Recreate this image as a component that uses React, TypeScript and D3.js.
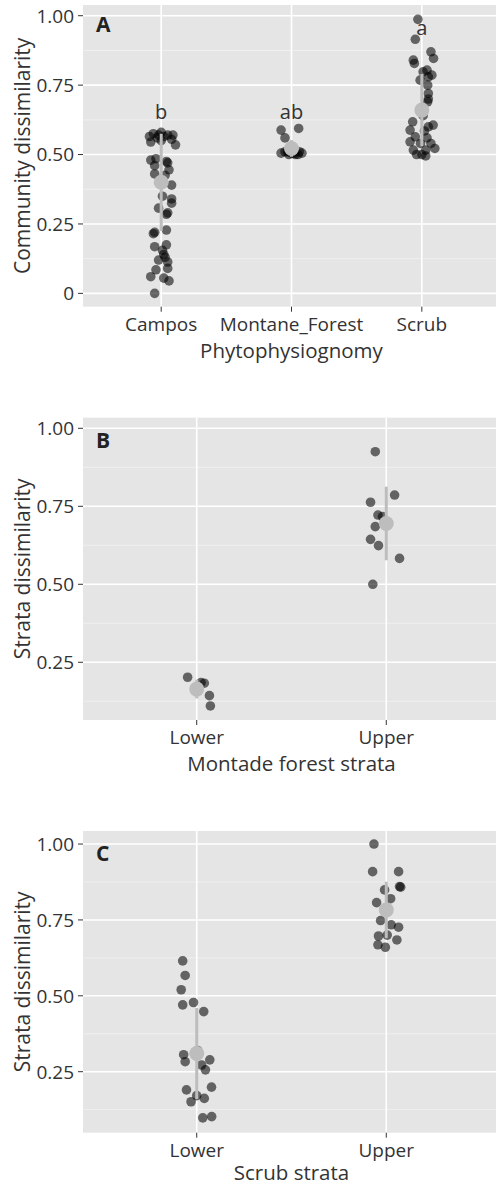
import React from "react";
import * as d3 from "d3";

// ---------- DATA ----------
// Panel A
const catsA = ["Campos", "Montane_Forest", "Scrub"];
const camposVals = [0.58, 0.575, 0.57, 0.565, 0.57, 0.56, 0.555, 0.545, 0.535, 0.57, 0.565, 0.55, 0.48, 0.485, 0.475, 0.47, 0.46, 0.445, 0.43, 0.425, 0.39, 0.35, 0.34, 0.325, 0.307, 0.29, 0.285, 0.228, 0.22, 0.215, 0.175, 0.168, 0.155, 0.14, 0.13, 0.12, 0.113, 0.09, 0.085, 0.06, 0.055, 0.045, 0.0];
const camposJit = [0.0, -0.06, 0.05, -0.09, 0.09, -0.03, 0.08, -0.08, 0.11, -0.02, 0.02, 0.0, -0.08, -0.04, 0.04, 0.05, -0.05, 0.06, -0.05, 0.03, 0.08, 0.01, 0.08, 0.08, -0.02, 0.05, 0.04, 0.04, -0.05, -0.06, 0.04, -0.05, 0.01, 0.02, 0.03, -0.02, 0.05, 0.05, -0.04, -0.08, 0.02, 0.06, -0.05];
const montaneVals = [0.594, 0.588, 0.56, 0.505, 0.51, 0.5, 0.505, 0.5, 0.51, 0.505, 0.5, 0.51, 0.505];
const montaneJit = [0.055, -0.08, -0.05, -0.08, -0.05, -0.02, 0.0, 0.03, 0.06, 0.08, 0.05, -0.03, 0.02];
const scrubVals = [0.987, 0.915, 0.87, 0.846, 0.84, 0.828, 0.804, 0.78, 0.798, 0.786, 0.768, 0.75, 0.72, 0.7, 0.69, 0.64, 0.618, 0.606, 0.6, 0.588, 0.585, 0.564, 0.56, 0.546, 0.54, 0.54, 0.516, 0.516, 0.522, 0.5, 0.495, 0.5];
const scrubJit = [-0.03, -0.05, 0.07, 0.09, -0.065, -0.057, 0.04, 0.05, 0.01, 0.077, -0.013, 0.045, 0.05, 0.05, 0.045, 0.01, -0.07, 0.087, 0.05, -0.09, 0.02, -0.05, 0.04, -0.09, -0.01, 0.07, -0.065, 0.03, 0.1, -0.04, 0.03, 0.0];
const meansA = [0.40, 0.522, 0.66];
const sdsA = [0.175, 0.03, 0.13];
const lettersA = ["b", "ab", "a"];
const letterPosA = [0.628, 0.628, 0.93];
const yTicksA = [0, 0.25, 0.5, 0.75, 1.0];
const yTickLabelsA = ["0", "0.25", "0.50", "0.75", "1.00"];

// Panel B
const catsB = ["Lower", "Upper"];
const bLowerVals = [0.202, 0.185, 0.183, 0.143, 0.11];
const bLowerJit = [-0.048, 0.023, 0.04, 0.067, 0.072];
const bUpperVals = [0.925, 0.786, 0.763, 0.722, 0.717, 0.685, 0.644, 0.624, 0.583, 0.5];
const bUpperJit = [-0.058, 0.044, -0.083, -0.044, -0.02, -0.058, -0.083, -0.041, 0.07, -0.071];
const meansB = [0.164, 0.695];
const sdsB = [0.03, 0.118];

// Panel C
const catsC = ["Lower", "Upper"];
const cLowerVals = [0.615, 0.567, 0.52, 0.47, 0.478, 0.448, 0.306, 0.32, 0.283, 0.272, 0.289, 0.256, 0.19, 0.199, 0.171, 0.151, 0.162, 0.098, 0.102];
const cLowerJit = [-0.074, -0.061, -0.082, -0.074, -0.017, 0.037, -0.069, 0.005, -0.061, 0.026, 0.069, 0.046, -0.054, 0.078, 0.0, -0.03, 0.04, 0.032, 0.079];
const cUpperVals = [1.0, 0.909, 0.909, 0.858, 0.86, 0.849, 0.82, 0.807, 0.748, 0.734, 0.726, 0.697, 0.7, 0.684, 0.668, 0.66];
const cUpperJit = [-0.065, -0.072, 0.065, 0.076, 0.07, -0.009, 0.023, -0.051, -0.03, 0.026, 0.065, -0.041, 0.005, 0.056, -0.044, -0.005];
const meansC = [0.31, 0.783];
const sdsC = [0.15, 0.093];

const yTicksBC = [0.25, 0.5, 0.75, 1.0];
const yTickLabelsBC = ["0.25", "0.50", "0.75", "1.00"];

// ---------- STYLE ----------
const FONT = "'Open Sans', 'Noto Sans', sans-serif";
const BG = "#e5e5e5";
const TEXT = "#333333";
const W = 496;
const H = 1186;
const PLOT_LEFT = 83;
const PLOT_RIGHT = 500;

type Group = { cat: string; vals: number[]; jit: number[] };

type PanelProps = {
  top: number;
  bottom: number;
  domain: [number, number];
  cats: string[];
  groups: Group[];
  means: number[];
  sds: number[];
  yTicks: number[];
  yTickLabels: string[];
  minor: number[];
  letter: string;
  yTitle: string;
  xTitle: string;
  titleOffset: number;
  sigLetters?: string[];
  sigPos?: number[];
};

function Panel(p: PanelProps) {
  const y = d3.scaleLinear().domain(p.domain).range([p.bottom, p.top]);
  const x = d3.scalePoint<string>().domain(p.cats).range([PLOT_LEFT, PLOT_RIGHT]).padding(0.6);
  const step = x.step();
  const midY = (p.top + p.bottom) / 2;
  const midX = ((x(p.cats[0]) as number) + (x(p.cats[p.cats.length - 1]) as number)) / 2;
  return (
    <g>
      <rect x={PLOT_LEFT} y={p.top} width={PLOT_RIGHT - PLOT_LEFT} height={p.bottom - p.top} fill={BG} />
      {p.minor.map((v, i) => (
        <line key={"mn" + i} x1={PLOT_LEFT} x2={PLOT_RIGHT} y1={y(v)} y2={y(v)} stroke="#f2f2f2" strokeWidth={0.8} />
      ))}
      {p.yTicks.map((v, i) => (
        <line key={"mj" + i} x1={PLOT_LEFT} x2={PLOT_RIGHT} y1={y(v)} y2={y(v)} stroke="#ffffff" strokeWidth={1.6} />
      ))}
      {p.cats.map((c) => (
        <line key={"vx" + c} x1={x(c)} x2={x(c)} y1={p.top} y2={p.bottom} stroke="#ffffff" strokeWidth={1.6} />
      ))}
      {/* points */}
      {p.groups.map((g) =>
        g.vals.map((v, i) => (
          <circle
            key={g.cat + i}
            cx={(x(g.cat) as number) + g.jit[i] * step}
            cy={y(v)}
            r={4.8}
            fill="#000000"
            fillOpacity={0.57}
          />
        ))
      )}
      {/* mean +- sd */}
      {p.cats.map((c, i) => (
        <g key={"m" + c}>
          <line
            x1={x(c)}
            x2={x(c)}
            y1={y(p.means[i] + p.sds[i])}
            y2={y(p.means[i] - p.sds[i])}
            stroke="#bdbdbd"
            strokeWidth={3}
          />
          <circle cx={x(c)} cy={y(p.means[i])} r={7.5} fill="#bdbdbd" />
        </g>
      ))}
      {/* significance letters */}
      {p.sigLetters &&
        p.sigLetters.map((s, i) => (
          <text
            key={"s" + i}
            x={x(p.cats[i])}
            y={y(p.sigPos![i])}
            textAnchor="middle"
            fontFamily={FONT}
            fontSize={20}
            fill={TEXT}
          >
            {s}
          </text>
        ))}
      {/* panel letter */}
      <text x={96} y={p.top + (p.top < 100 ? 27 : 30)} fontFamily={FONT} fontWeight={700} fontSize={21} fill="#222">
        {p.letter}
      </text>
      {/* y axis */}
      {p.yTicks.map((v, i) => (
        <g key={"yt" + i}>
          <line x1={78} x2={PLOT_LEFT} y1={y(v)} y2={y(v)} stroke={TEXT} strokeWidth={1} />
          <text x={74} y={y(v)} dy="0.36em" textAnchor="end" fontFamily={FONT} fontSize={19} fill={TEXT}>
            {p.yTickLabels[i]}
          </text>
        </g>
      ))}
      {/* x axis */}
      {p.cats.map((c) => (
        <g key={"xt" + c}>
          <line x1={x(c)} x2={x(c)} y1={p.bottom} y2={p.bottom + 5} stroke={TEXT} strokeWidth={1} />
          <text x={x(c)} y={p.bottom + 24} textAnchor="middle" fontFamily={FONT} fontSize={19} fill={TEXT}>
            {c}
          </text>
        </g>
      ))}
      <text x={midX} y={p.bottom + p.titleOffset} textAnchor="middle" fontFamily={FONT} fontSize={20.5} fill={TEXT}>
        {p.xTitle}
      </text>
      <text
        transform={`translate(30,${midY}) rotate(-90)`}
        textAnchor="middle"
        fontFamily={FONT}
        fontSize={21}
        fill={TEXT}
      >
        {p.yTitle}
      </text>
    </g>
  );
}

export default function App() {
  const minor = [0.125, 0.375, 0.625, 0.875];
  return (
    <svg
      width={W}
      height={H}
      style={{ position: "absolute", left: 0, top: 0, background: "#ffffff" }}
      xmlns="http://www.w3.org/2000/svg"
    >
      <Panel
        top={5}
        bottom={306.7}
        domain={[-0.048, 1.0386]}
        cats={catsA}
        groups={[
          { cat: "Campos", vals: camposVals, jit: camposJit },
          { cat: "Montane_Forest", vals: montaneVals, jit: montaneJit },
          { cat: "Scrub", vals: scrubVals, jit: scrubJit },
        ]}
        means={meansA}
        sds={sdsA}
        yTicks={yTicksA}
        yTickLabels={yTickLabelsA}
        minor={minor}
        letter="A"
        yTitle="Community dissimilarity"
        xTitle="Phytophysiognomy"
        titleOffset={51}
        sigLetters={lettersA}
        sigPos={letterPosA}
      />
      <Panel
        top={417.7}
        bottom={720}
        domain={[0.065, 1.034]}
        cats={catsB}
        groups={[
          { cat: "Lower", vals: bLowerVals, jit: bLowerJit },
          { cat: "Upper", vals: bUpperVals, jit: bUpperJit },
        ]}
        means={meansB}
        sds={sdsB}
        yTicks={yTicksBC}
        yTickLabels={yTickLabelsBC}
        minor={minor}
        letter="B"
        yTitle="Strata dissimilarity"
        xTitle="Montade forest strata"
        titleOffset={51}
      />
      <Panel
        top={831}
        bottom={1132.7}
        domain={[0.049, 1.043]}
        cats={catsC}
        groups={[
          { cat: "Lower", vals: cLowerVals, jit: cLowerJit },
          { cat: "Upper", vals: cUpperVals, jit: cUpperJit },
        ]}
        means={meansC}
        sds={sdsC}
        yTicks={yTicksBC}
        yTickLabels={yTickLabelsBC}
        minor={minor}
        letter="C"
        yTitle="Strata dissimilarity"
        xTitle="Scrub strata"
        titleOffset={47.5}
      />
    </svg>
  );
}
